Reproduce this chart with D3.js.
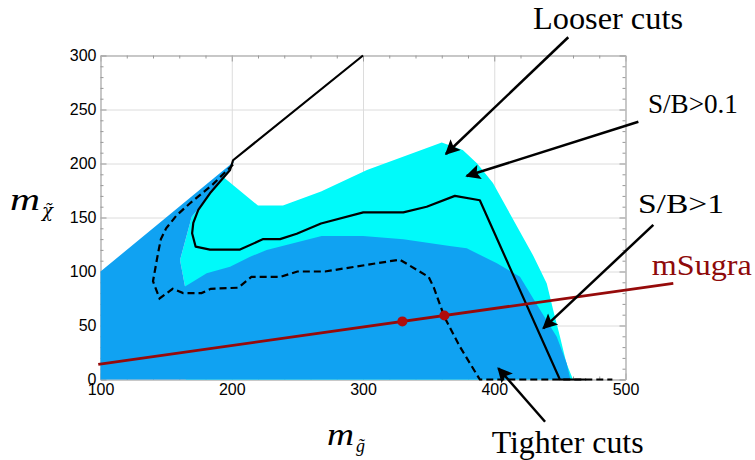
<!DOCTYPE html>
<html>
<head>
<meta charset="utf-8">
<script src="https://cdn.jsdelivr.net/npm/d3@7"></script>
<style>
  html, body { margin: 0; padding: 0; background: #fff; }
  svg { display: block; }
</style>
</head>
<body>
<svg id="chart" width="755" height="460"></svg>
<script>
// Mass plane: gluino mass (x) vs neutralino mass (y), GeV
const xTicks = [100, 200, 300, 400, 500];
const yTicks = [0, 50, 100, 150, 200, 250, 300];

// S/B > 0.1 reach (looser region), outer boundary
const looseRegion = [
  [194, 187], [220, 161], [239, 161], [268, 174], [303, 194], [360, 219.5],
  [376, 212.5], [387, 200], [399, 182], [414.5, 148], [430, 114], [440, 89],
  [445, 64], [450, 40], [455, 15], [460, 0], [165, 0], [164.4, 86], [160.6, 110.6],
  [169.5, 150.7]
];

// S/B > 1 reach (tighter region)
const tightRegion = [
  [100, 0], [100, 100], [202, 202], [194, 187], [169.5, 150.7], [160.6, 110.6],
  [164.4, 86], [180.9, 98.3], [198.7, 104.4], [214, 113.7], [226.6, 119.9],
  [268.5, 132.9], [300, 132.9], [330.7, 129.8], [366, 123.6], [379, 121.5],
  [402, 107.6], [419.6, 95.2], [435, 64.4], [447.6, 39.6], [455.2, 15], [458, 0]
];

// Looser cuts contour (solid)
const looserCuts = [
  [300, 300], [201, 203], [198.7, 194], [183.4, 172.4], [174.5, 157], [170.7, 145],
  [169.8, 135.4], [172.5, 123], [183.4, 120.3], [206.3, 120.3], [224, 130],
  [236.8, 130], [249.5, 135], [268, 144.5], [300.2, 154.8], [330.7, 154.8],
  [348.5, 160], [370, 170], [389, 166], [450, 0], [470, 0]
];

// Tighter cuts contour (dashed)
const tighterCuts = [
  [201, 199], [185, 180], [168, 163], [158, 152], [150, 140], [146, 130],
  [144, 118], [140, 91], [145, 75], [155, 84], [163, 80], [177, 80], [184, 84],
  [205, 85], [215, 95], [237, 95], [250, 100], [271, 100], [328, 111], [350, 95],
  [354, 85], [362, 58], [374, 30], [389, 0], [490, 0]
];

// mSugra line and benchmark points
const mSugraLine = [[98.3, 14.1], [536.4, 89.1]];
const mSugraPoints = [[330, 53.8], [362, 59.2]];

// Annotation labels and arrows (from label to tip), in plot units
const labels = [
  { text: "Looser cuts", at: [429.5, 324.3], size: 32, width: 150, color: "#000" },
  { text: "S/B>0.1", at: [517.1, 247.0], size: 27, width: 90, color: "#000" },
  { text: "S/B>1", at: [509.5, 154.2], size: 27, width: 86, color: "#000" },
  { text: "mSugra", at: [520, 96.8], size: 30, width: 100, color: "#8e0a0a" },
  { text: "Tighter cuts", at: [398, -68.3], size: 32, width: 152, color: "#000" }
];
const arrows = [
  { from: [456.4, 316.9], to: [363.2, 208.8] },
  { from: [509.8, 238.7], to: [379, 188.4] },
  { from: [521.2, 143.1], to: [437.4, 47.4] },
  { from: [438.7, -39.1], to: [403.1, 10.4] }
];

const svg = d3.select("#chart");
const x = d3.scaleLinear().domain([100, 500]).range([100.5, 625.5]);
const y = d3.scaleLinear().domain([0, 300]).range([379.5, 55.5]);
const plotW = x(500) - x(100), plotH = y(0) - y(300);

// grid
const grid = svg.append("g");
grid.append("g").attr("transform", `translate(0,${y(0)})`)
  .call(d3.axisBottom(x).tickValues([200, 300, 400]).tickSize(-plotH).tickFormat(""))
  .call(g => g.select(".domain").remove())
  .call(g => g.selectAll("line").attr("stroke", "#dcdcdc"));
grid.append("g").attr("transform", `translate(${x(100)},0)`)
  .call(d3.axisLeft(y).tickValues([50, 100, 150, 200, 250]).tickSize(-plotW).tickFormat(""))
  .call(g => g.select(".domain").remove())
  .call(g => g.selectAll("line").attr("stroke", "#dcdcdc"));

// frame with inward ticks
const frame = svg.append("g").attr("class", "frame");
function styleAxis(g) {
  g.select(".domain").attr("stroke", "#b5b5b5");
  g.selectAll(".tick line").attr("stroke", "#999");
  g.selectAll("text").attr("font-family", "Liberation Sans, Arial, sans-serif")
    .attr("font-size", 16).attr("fill", "#000");
}
const xMinor = d3.range(100, 501, 20).filter(v => v % 100 !== 0);
const yMinor = d3.range(0, 301, 10).filter(v => v % 50 !== 0);

frame.append("g").attr("transform", `translate(0,${y(0)})`)
  .call(d3.axisBottom(x).tickValues(xTicks).tickSize(-6).tickSizeOuter(0).tickPadding(4).tickFormat(d3.format("d")))
  .call(styleAxis);
frame.append("g").attr("transform", `translate(0,${y(0)})`)
  .call(d3.axisBottom(x).tickValues(xMinor).tickSize(-3).tickSizeOuter(0).tickFormat(""))
  .call(styleAxis);
frame.append("g").attr("transform", `translate(0,${y(300)})`)
  .call(d3.axisTop(x).tickValues(xTicks).tickSize(-6).tickSizeOuter(0).tickFormat(""))
  .call(styleAxis);
frame.append("g").attr("transform", `translate(0,${y(300)})`)
  .call(d3.axisTop(x).tickValues(xMinor).tickSize(-3).tickSizeOuter(0).tickFormat(""))
  .call(styleAxis);
frame.append("g").attr("transform", `translate(${x(100)},0)`)
  .call(d3.axisLeft(y).tickValues(yTicks).tickSize(-6).tickSizeOuter(0).tickPadding(4).tickFormat(d3.format("d")))
  .call(styleAxis);
frame.append("g").attr("transform", `translate(${x(100)},0)`)
  .call(d3.axisLeft(y).tickValues(yMinor).tickSize(-3).tickSizeOuter(0).tickFormat(""))
  .call(styleAxis);
frame.append("g").attr("transform", `translate(${x(500)},0)`)
  .call(d3.axisRight(y).tickValues(yTicks).tickSize(-6).tickSizeOuter(0).tickFormat(""))
  .call(styleAxis);
frame.append("g").attr("transform", `translate(${x(500)},0)`)
  .call(d3.axisRight(y).tickValues(yMinor).tickSize(-3).tickSizeOuter(0).tickFormat(""))
  .call(styleAxis);

// reach regions
const area = d3.line().x(d => x(d[0])).y(d => y(d[1]));
svg.append("path").attr("d", area(looseRegion) + "Z").attr("fill", "#00fafa");
svg.append("path").attr("d", area(tightRegion) + "Z").attr("fill", "#10a2f2");

// contours
svg.append("path").attr("d", area(looserCuts)).attr("fill", "none")
  .attr("stroke", "#000").attr("stroke-width", 2.2).attr("stroke-linejoin", "round");
svg.append("path").attr("d", area(tighterCuts)).attr("fill", "none")
  .attr("stroke", "#000").attr("stroke-width", 2.2).attr("stroke-dasharray", "7,4");

// mSugra
svg.append("path").attr("d", area(mSugraLine)).attr("stroke", "#960a0a")
  .attr("stroke-width", 2.8).attr("fill", "none");
svg.selectAll("circle.ms").data(mSugraPoints).join("circle").attr("class", "ms")
  .attr("cx", d => x(d[0])).attr("cy", d => y(d[1])).attr("r", 5).attr("fill", "#b00d0d");

// arrows
svg.append("defs").append("marker").attr("id", "head")
  .attr("viewBox", "0 0 10 10").attr("refX", 9).attr("refY", 5)
  .attr("markerWidth", 7).attr("markerHeight", 6).attr("orient", "auto")
  .attr("markerUnits", "strokeWidth")
  .append("path").attr("d", "M0,0 L10,5 L0,10 L2,5 Z").attr("fill", "#000");
svg.selectAll("line.arrow").data(arrows).join("line").attr("class", "arrow")
  .attr("x1", d => x(d.from[0])).attr("y1", d => y(d.from[1]))
  .attr("x2", d => x(d.to[0])).attr("y2", d => y(d.to[1]))
  .attr("stroke", "#000").attr("stroke-width", 2.5).attr("marker-end", "url(#head)");

// labels
svg.selectAll("text.lab").data(labels).join("text").attr("class", "lab")
  .attr("x", d => x(d.at[0])).attr("y", d => y(d.at[1]))
  .attr("font-family", "Liberation Serif, Times New Roman, serif")
  .attr("font-size", d => d.size).attr("fill", d => d.color)
  .attr("textLength", d => d.width).attr("lengthAdjust", "spacingAndGlyphs")
  .text(d => d.text);

// axis titles: italic m with tilde-accented subscript
const serif = "Liberation Serif, Times New Roman, serif";
function massTitle(px, py, mWidth, sub, subFont) {
  const t = svg.append("text").attr("x", px).attr("y", py)
    .attr("font-family", serif).attr("font-style", "italic");
  t.append("tspan").attr("font-size", 31)
    .attr("textLength", mWidth).attr("lengthAdjust", "spacingAndGlyphs").text("m");
  t.append("tspan").attr("font-family", subFont).attr("font-size", 18)
    .attr("dx", 2).attr("dy", 7).text(sub + "\u0303");
  return t;
}
massTitle(10, 210, 30, "χ", "DejaVu Serif, serif");
massTitle(327, 445, 27, "g", serif);
</script>
</body>
</html>
